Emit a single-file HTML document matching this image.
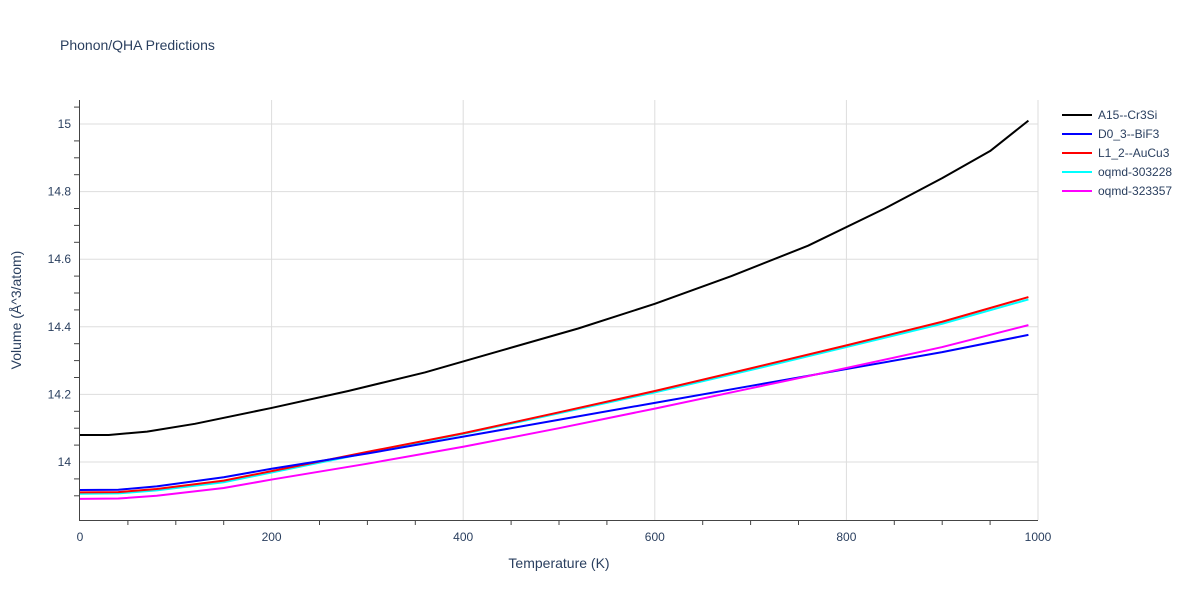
<!DOCTYPE html>
<html><head><meta charset="utf-8"><style>
body{margin:0;background:#fff;font-family:"Liberation Sans",sans-serif}
text{font-family:"Liberation Sans",sans-serif;fill:#2a3f5f}
</style></head><body>
<svg id="chart" width="1200" height="600">
<text x="60" y="50" font-size="14">Phonon/QHA Predictions</text>
<g id="grid"></g><g id="axes"></g><g id="lines"></g><g id="legend"></g>
<text x="559" y="568" font-size="14" text-anchor="middle">Temperature (K)</text>
<text transform="translate(21,310) rotate(-90)" font-size="14" text-anchor="middle">Volume (Å^3/atom)</text>
</svg>
<script>
const temps=[0,30,70,120,200,280,360,440,520,600,680,760,840,900,950,990];
const a15=[14.08,14.08,14.09,14.113,14.16,14.21,14.265,14.33,14.395,14.468,14.55,14.64,14.75,14.84,14.92,15.01];
const temps2=[0,40,80,150,200,300,400,500,600,700,800,900,990];
const d03=[13.917,13.918,13.928,13.955,13.98,14.025,14.075,14.125,14.175,14.225,14.275,14.325,14.376];
const l12=[13.91,13.911,13.92,13.945,13.973,14.03,14.085,14.147,14.21,14.277,14.345,14.415,14.488];
const oq303228=[13.906,13.907,13.916,13.94,13.969,14.027,14.083,14.144,14.206,14.272,14.34,14.409,14.481];
const oq323357=[13.891,13.892,13.9,13.923,13.948,13.995,14.045,14.1,14.158,14.218,14.278,14.34,14.405];
const xTicks=[0,200,400,600,800,1000];
const yTicks=[14,14.2,14.4,14.6,14.8,15];
const seriesNames=["A15--Cr3Si","D0_3--BiF3","L1_2--AuCu3","oqmd-303228","oqmd-323357"];
const colors=["#000000","#0000ff","#ff0000","#00ffff","#ff00ff"];
const X=t=>80+t*0.958, Y=v=>462-(v-14)*338;
const NS="http://www.w3.org/2000/svg";
function mk(tag,attrs,parent){const e=document.createElementNS(NS,tag);for(const k in attrs)e.setAttribute(k,attrs[k]);parent.appendChild(e);return e;}
const grid=document.getElementById('grid'),axes=document.getElementById('axes'),lines=document.getElementById('lines'),leg=document.getElementById('legend');
xTicks.forEach(t=>{
 if(t>0){const g=mk('line',{x1:X(t),x2:X(t),y1:100,y2:520,stroke:'#ddd'},grid);
 
 }
 const l=mk('text',{x:X(t),y:541,'font-size':12,'text-anchor':'middle'},axes);l.textContent=t;
 
 
});
for(let t=50;t<1000;t+=50){if(t%200==0)continue;const m=mk('line',{x1:X(t),x2:X(t),y1:520,y2:525,stroke:'#444'},axes);
 
 }
yTicks.forEach(v=>{
 const g=mk('line',{x1:80,x2:1038,y1:Y(v),y2:Y(v),stroke:'#ddd'},grid);
 
 
 const l=mk('text',{x:71,y:Y(v)+4,'font-size':12,'text-anchor':'end'},axes);l.textContent=String(v);
 
 
});
for(let i=-2;i<=21;i++){const v=14+i*0.05;if(i%4==0)continue;const y=Y(v);if(y<100||y>520)continue;
 const m=mk('line',{x1:74,x2:79,y1:y,y2:y,stroke:'#444'},axes);
 
 }
const ax=mk('path',{d:'M79.5 100V520.5H1038',fill:'none',stroke:'#444'},axes);


const data=[[temps,a15],[temps2,d03],[temps2,l12],[temps2,oq303228],[temps2,oq323357]];
const order=[0,3,2,1,4];
order.forEach(i=>{const [ts,vs]=data[i];
 const p=mk('polyline',{points:ts.map((t,j)=>X(t)+','+Y(vs[j])).join(' '),fill:'none',stroke:colors[i],'stroke-width':2,'stroke-linejoin':'round'},lines);
 
 
});
seriesNames.forEach((n,i)=>{const y=115+i*19;
 const g=mk('g',{},leg);
 
 
 mk('line',{x1:1062,x2:1092,y1:y,y2:y,stroke:colors[i],'stroke-width':2},g);
 const t=mk('text',{x:1098,y:y+4,'font-size':12},g);t.textContent=n;
});
</script>
</body></html>
